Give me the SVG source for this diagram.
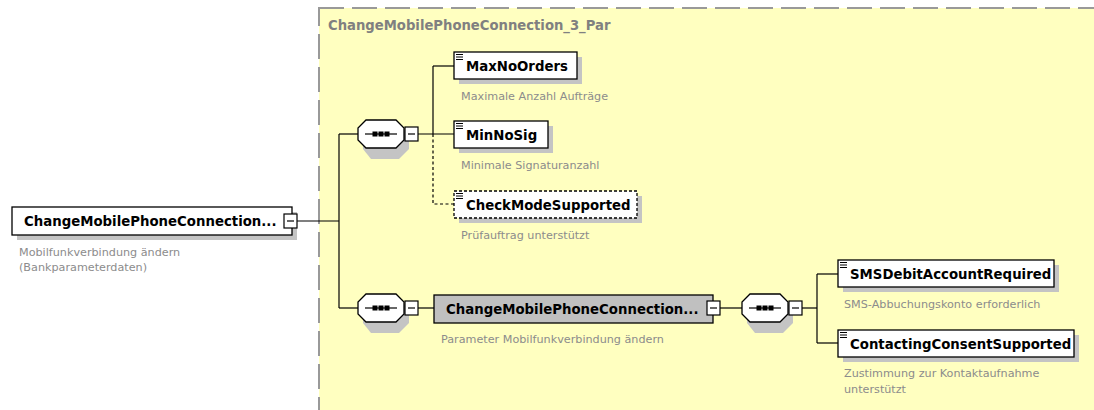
<svg xmlns="http://www.w3.org/2000/svg" width="1094" height="410" viewBox="0 0 1094 410">
<defs>
<style>
.bg{fill:#ffffff}
.area{fill:#ffffc0;stroke:#999999;stroke-width:2;stroke-dasharray:25 8}
.areatitle{font-family:"DejaVu Sans",sans-serif;font-weight:bold;font-size:13.2px;fill:#808080}
.box{fill:#ffffff;stroke:#000000;stroke-width:1.3}
.boxd{fill:#ffffff;stroke:#000000;stroke-width:1.3;stroke-dasharray:3 2}
.boxg{fill:#c0c0c0;stroke:#000000;stroke-width:1.3}
.shadow{fill:#c4c4c4}
.name{font-family:"DejaVu Sans",sans-serif;font-weight:bold;font-size:13.3px;fill:#000000}
.desc{font-family:"DejaVu Sans",sans-serif;font-size:11.2px;fill:#8c8c8c}
.mbox{fill:#ffffff;stroke:#000000;stroke-width:1.2}
.mline{stroke:#000000;stroke-width:1.2}
.conn{stroke:#000000;stroke-width:1.2;fill:none}
.dash{stroke-dasharray:3 2.5}
.oct{fill:#ffffff;stroke:#000000;stroke-width:1.3}
.icon{stroke:#000000;stroke-width:1}
</style>
<g id="seqShape">
<polygon class="shadow" points="13,5 41,5 51,15 51,29 41,39 13,39 5,29 5,15"/>
<polygon class="oct" points="8,0 38,0 46,8 46,20 38,28 8,28 0,20 0,8"/>
<line class="mline" x1="7" y1="14" x2="39" y2="14"/>
<rect x="14.5" y="11.5" width="5" height="5" fill="#000"/>
<rect x="20.5" y="11.5" width="5" height="5" fill="#000"/>
<rect x="26.5" y="11.5" width="5" height="5" fill="#000"/>
</g>
<g id="minus">
<rect class="mbox" x="0" y="0" width="13" height="14"/>
<line class="mline" x1="3" y1="7" x2="10" y2="7"/>
</g>
<g id="eicon">
<line class="icon" x1="2" y1="2.5" x2="9" y2="2.5"/>
<line class="icon" x1="2" y1="5" x2="9" y2="5"/>
<line class="icon" x1="2" y1="7.5" x2="9" y2="7.5"/>
</g>
</defs>

<rect class="bg" x="0" y="0" width="1094" height="410"/>

<g id="area">
<rect class="area" x="319" y="8" width="800" height="430"/>
<text class="areatitle" x="328" y="30">ChangeMobilePhoneConnection_3_Par</text>
</g>

<g id="connectors">
<line class="conn" x1="297" y1="221" x2="339" y2="221"/>
<line class="conn" x1="339" y1="134" x2="339" y2="308"/>
<line class="conn" x1="339" y1="134" x2="358" y2="134"/>
<line class="conn" x1="339" y1="308" x2="358" y2="308"/>
<line class="conn" x1="418" y1="134" x2="454" y2="134"/>
<line class="conn" x1="433" y1="66" x2="433" y2="134"/>
<line class="conn" x1="433" y1="66" x2="454" y2="66"/>
<path class="conn dash" d="M433,134 V204 H454"/>
<line class="conn" x1="418" y1="308" x2="434" y2="308"/>
<line class="conn" x1="720" y1="308" x2="742" y2="308"/>
<line class="conn" x1="802" y1="308" x2="817" y2="308"/>
<line class="conn" x1="817" y1="274" x2="817" y2="343"/>
<line class="conn" x1="817" y1="274" x2="838" y2="274"/>
<line class="conn" x1="817" y1="343" x2="838" y2="343"/>
</g>

<g id="root">
<rect class="shadow" x="17" y="212" width="280" height="28"/>
<rect class="box" x="12" y="207" width="280" height="28"/>
<text class="name" x="24" y="226">ChangeMobilePhoneConnection...</text>
<use href="#minus" x="284" y="214"/>
<text class="desc" x="19" y="256">Mobilfunkverbindung ändern</text>
<text class="desc" x="19" y="271">(Bankparameterdaten)</text>
</g>

<g id="seq1">
<use href="#seqShape" x="358" y="120"/>
<use href="#minus" x="405" y="127"/>
</g>

<g id="MaxNoOrders">
<rect class="shadow" x="459" y="57" width="123" height="27"/>
<rect class="box" x="454" y="52" width="123" height="27"/>
<use href="#eicon" x="454" y="52"/>
<text class="name" x="466" y="71">MaxNoOrders</text>
<text class="desc" x="461" y="100">Maximale Anzahl Aufträge</text>
</g>

<g id="MinNoSig">
<rect class="shadow" x="459" y="126" width="94" height="27"/>
<rect class="box" x="454" y="121" width="94" height="27"/>
<use href="#eicon" x="454" y="121"/>
<text class="name" x="466" y="140">MinNoSig</text>
<text class="desc" x="461" y="169">Minimale Signaturanzahl</text>
</g>

<g id="CheckModeSupported">
<rect class="shadow" x="459" y="196" width="183" height="27"/>
<rect class="boxd" x="454" y="191" width="183" height="27"/>
<use href="#eicon" x="454" y="191"/>
<text class="name" x="466" y="210">CheckModeSupported</text>
<text class="desc" x="461" y="239">Prüfauftrag unterstützt</text>
</g>

<g id="seq2">
<use href="#seqShape" x="358" y="294"/>
<use href="#minus" x="405" y="301"/>
</g>

<g id="ParType">
<rect class="boxg" x="434" y="295" width="279" height="28"/>
<text class="name" x="446" y="314">ChangeMobilePhoneConnection...</text>
<use href="#minus" x="707" y="301"/>
<text class="desc" x="441" y="343">Parameter Mobilfunkverbindung ändern</text>
</g>

<g id="seq3">
<use href="#seqShape" x="742" y="294"/>
<use href="#minus" x="789" y="301"/>
</g>

<g id="SMSDebitAccountRequired">
<rect class="shadow" x="843" y="265" width="216" height="27"/>
<rect class="box" x="838" y="260" width="216" height="27"/>
<use href="#eicon" x="838" y="260"/>
<text class="name" x="850" y="279">SMSDebitAccountRequired</text>
<text class="desc" x="844" y="308">SMS-Abbuchungskonto erforderlich</text>
</g>

<g id="ContactingConsentSupported">
<rect class="shadow" x="843" y="335" width="236" height="27"/>
<rect class="box" x="838" y="330" width="236" height="27"/>
<use href="#eicon" x="838" y="330"/>
<text class="name" x="850" y="349">ContactingConsentSupported</text>
<text class="desc" x="844" y="377">Zustimmung zur Kontaktaufnahme</text>
<text class="desc" x="844" y="393">unterstützt</text>
</g>
</svg>
